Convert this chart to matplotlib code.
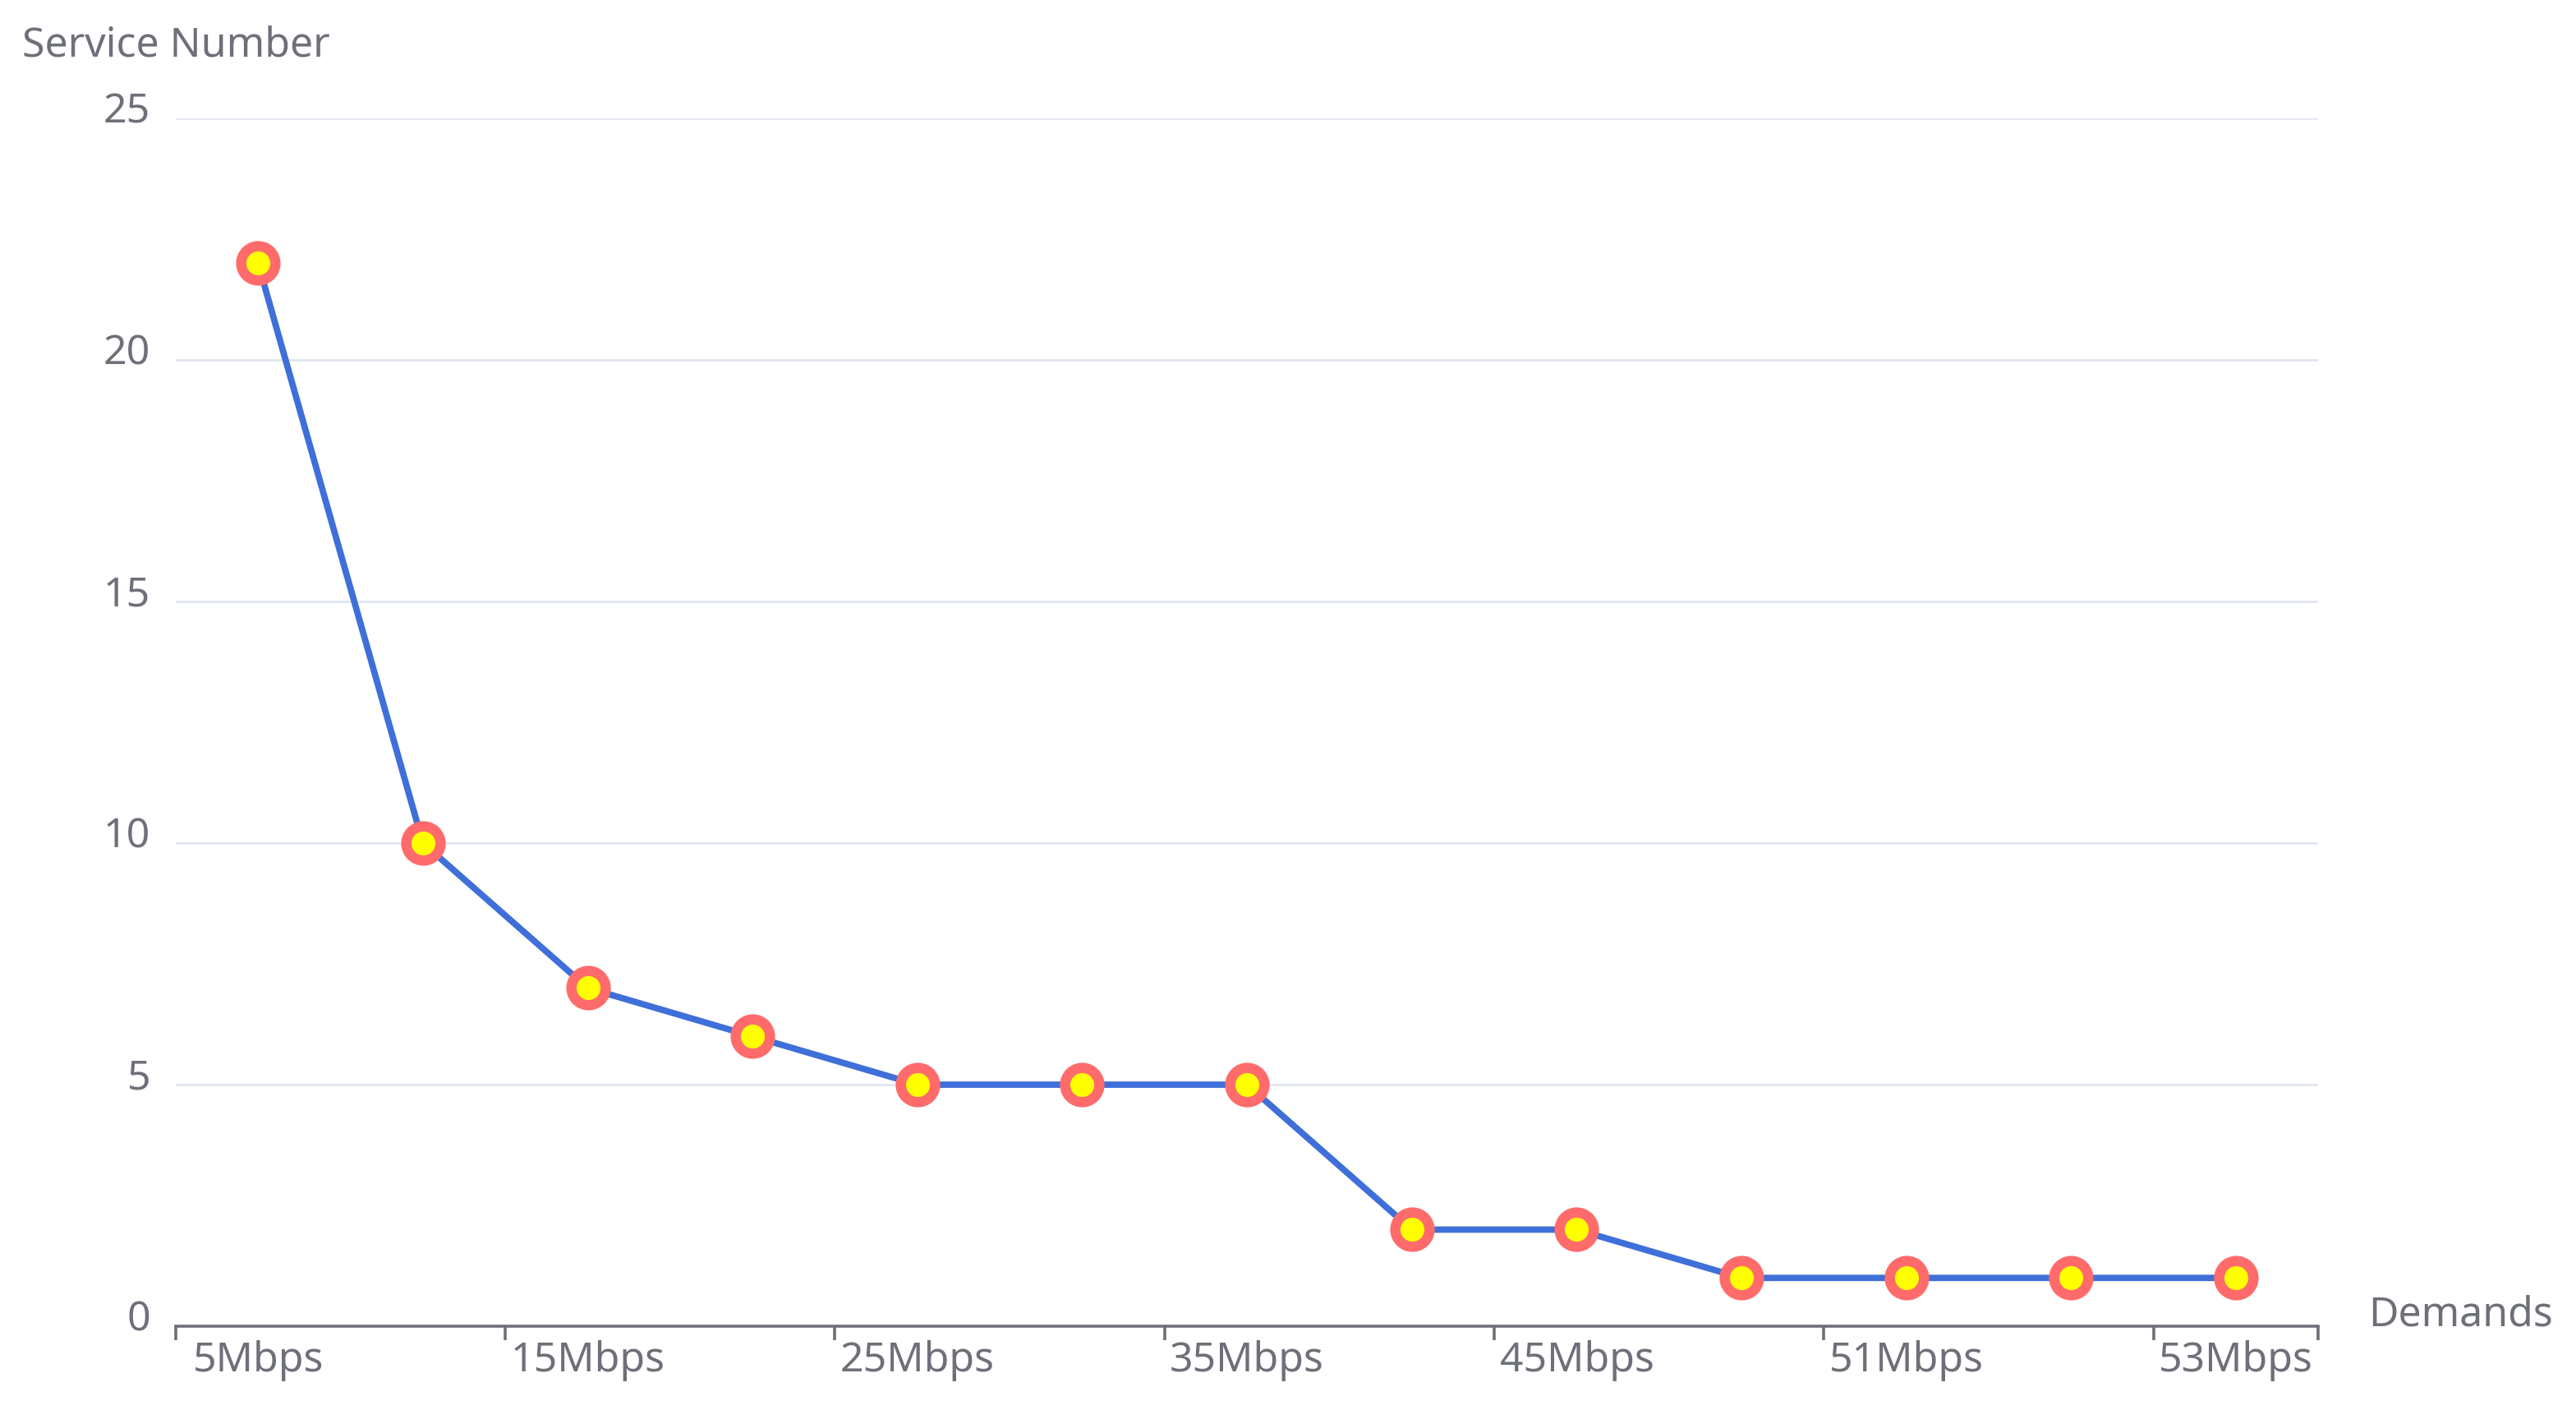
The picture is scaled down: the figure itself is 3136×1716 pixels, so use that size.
import numpy as np
import matplotlib
matplotlib.use("Agg")
from matplotlib import pyplot as plt
from matplotlib.transforms import ScaledTranslation

# data
demands = ["5Mbps", "10Mbps", "15Mbps", "20Mbps", "25Mbps", "30Mbps", "35Mbps",
           "40Mbps", "45Mbps", "50Mbps", "51Mbps", "52Mbps", "53Mbps"]
service_number = [22, 10, 7, 6, 5, 5, 5, 2, 2, 1, 1, 1, 1]
y_ticks = [0, 5, 10, 15, 20, 25]

plt.rcParams['font.family'] = ['Noto Sans', 'DejaVu Sans']
txt_color = "#6E7079"

fig = plt.figure(figsize=(15.68, 8.58), dpi=200)
ax = fig.add_axes([0.0682, 0.0594, 0.8318, 0.8567])

x = np.arange(len(demands))
ax.plot(x, service_number, color="#3F6FD8", linewidth=2.8,
        marker="o", markersize=15, markerfacecolor="#FFFF00",
        markeredgecolor="#FF6B6B", markeredgewidth=4.5, zorder=3, clip_on=False)

ax.set_xlim(-0.5, len(demands) - 0.5)
ax.set_ylim(0, 25)

# x axis: ticks on band boundaries every 2 categories, labels on every 2nd category
major = list(np.arange(-0.5, len(demands) - 0.5, 2)) + [len(demands) - 0.5]
ax.set_xticks(major)
ax.set_xticklabels([])
ax.set_xticks(x[::2], minor=True)
ax.tick_params(axis="x", which="major", length=6, width=1.3, color=txt_color, direction="out")
ax.set_xticklabels(demands[::2], minor=True)
ax.tick_params(axis="x", which="minor", length=0, pad=6, labelsize=18, labelcolor=txt_color)

ax.set_yticks(y_ticks)
ax.tick_params(axis="y", length=0, pad=11, labelsize=18, labelcolor=txt_color)
for lab in ax.get_yticklabels():
    lab.set_transform(lab.get_transform() + ScaledTranslation(0, 5 / 72, fig.dpi_scale_trans))

ax.grid(axis="y", color="#E0E6F1", linewidth=1.0)
ax.set_axisbelow(True)
for s in ["top", "right", "left"]:
    ax.spines[s].set_visible(False)
ax.spines["bottom"].set_color(txt_color)
ax.spines["bottom"].set_linewidth(1.3)

ax.annotate("Service Number", xy=(0, 1), xycoords="axes fraction",
            xytext=(0, 32), textcoords="offset points",
            ha="center", va="center", fontsize=18, color=txt_color)
ax.annotate("Demands", xy=(1, 0), xycoords="axes fraction",
            xytext=(22, 5), textcoords="offset points",
            ha="left", va="center", fontsize=18, color=txt_color)

fig.savefig("out.png", dpi=200, facecolor="white")
